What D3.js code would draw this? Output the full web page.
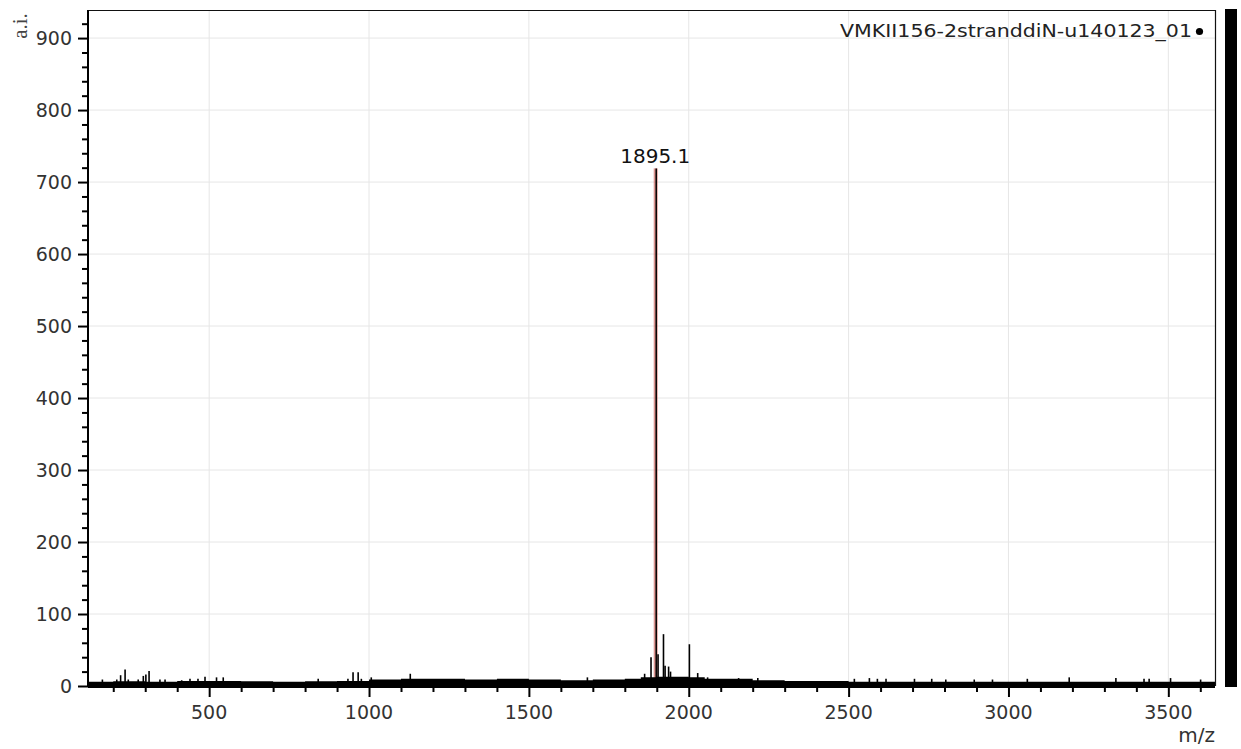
<!DOCTYPE html>
<html lang="en">
<head>
<meta charset="UTF-8">
<title>Spectrum</title>
<script src="https://d3js.org/d3.v7.min.js"></script>
<style>
  body { margin: 0; background: #fff; }
  text { font-family: "DejaVu Sans", sans-serif; }
</style>
</head>
<body>
<svg width="1241" height="749"></svg>
<script>
// baseline noise level (band top) along m/z
var noiseMz  = [121, 200, 300, 400, 500, 600, 700, 800, 900, 1000, 1100, 1200, 1300, 1400, 1500, 1600, 1700, 1800, 1850, 1900, 1950, 2000, 2050, 2100, 2200, 2300, 2400, 2500, 2700, 3000, 3300, 3646];
var noiseInt = [6,   6.5, 6,   7,   7,   6.5, 6,   6.5, 7,   9,    10,   10,   9,    10,   9,    8,    9,    10,   12,   13,   13,   12,   10,   10,   8,    7,    7,    6,    6,    6,    6,    6];

// visible spikes above the band
var peakMz  = [166, 211, 223, 237, 247, 278, 294, 302, 312, 346, 362, 414, 440, 465, 487, 523, 544, 841, 934, 950, 966, 976, 1007, 1129, 1683, 1862, 1882, 1904, 1921, 1926, 1937, 1943, 2002, 2028, 2059, 2156, 2216, 2518, 2565, 2590, 2617, 2706, 2760, 2804, 2893, 2950, 3059, 3190, 3336, 3424, 3440, 3507, 3601];
var peakInt = [9,   9,   15,  23,  9,   9,   14,  16,  21,  9,   9,   8,   10,  10,  13,  12,  12,  10,  10,  19,  19,  10,  12,   17,   12,   17,   40,   44,   72,   28,   27,   20,   58,   18,   12,   11,   11,   10,   11,   10,   10,   10,   10,   9,    9,    9,    10,   12,   11,   10,   10,   11,   9];

// labelled main peak
var mainMz = 1895.1;
var mainInt = 719;
var mainLabel = "1895.1";

var xTicks = [500, 1000, 1500, 2000, 2500, 3000, 3500];
var yTicks = [0, 100, 200, 300, 400, 500, 600, 700, 800, 900];
var legendName = "VMKII156-2stranddiN-u140123_01";

var svg = d3.select('svg');
var pl = 88, pr = 1215, pt = 10, pb = 686;

var x = d3.scaleLinear().domain([121, 3646]).range([pl, pr]);
var y = d3.scaleLinear().domain([0, 939]).range([pb, pt]);

// grid
var grid = svg.append('g');
grid.selectAll('line.gx').data(xTicks).enter().append('line')
    .attr('x1', function (d) { return x(d); }).attr('x2', function (d) { return x(d); })
    .attr('y1', pt).attr('y2', pb)
    .attr('stroke', '#e6e6e6').attr('stroke-width', 1);
grid.selectAll('line.gy').data(yTicks.slice(1)).enter().append('line')
    .attr('x1', pl).attr('x2', pr)
    .attr('y1', function (d) { return y(d); }).attr('y2', function (d) { return y(d); })
    .attr('stroke', '#e6e6e6').attr('stroke-width', 1);

// frame top/right
svg.append('path')
    .attr('d', 'M' + pl + ',' + (pt + 0.5) + 'H' + (pr + 0.5) + 'V' + pb)
    .attr('fill', 'none').attr('stroke', '#111').attr('stroke-width', 1.2);

// main peak red marker
var xp = x(mainMz) + 1;
svg.append('rect')
    .attr('x', xp - 2.5).attr('y', y(mainInt)).attr('width', 4).attr('height', pb - y(mainInt))
    .attr('fill', '#c8504a').attr('opacity', 0.6);
svg.append('line')
    .attr('x1', xp - 6).attr('x2', xp + 6).attr('y1', pb - 1.5).attr('y2', pb - 1.5)
    .attr('stroke', '#d0453f').attr('stroke-width', 2);

// noise band
var area = d3.area()
    .x(function (d) { return x(d[0]); })
    .y0(pb + 2)
    .y1(function (d) { return y(d[1]); })
    .curve(d3.curveStepAfter);
svg.append('path')
    .datum(d3.zip(noiseMz, noiseInt))
    .attr('d', area)
    .attr('fill', '#000');

// spikes
svg.append('g').selectAll('line').data(d3.zip(peakMz, peakInt)).enter().append('line')
    .attr('x1', function (d) { return x(d[0]); }).attr('x2', function (d) { return x(d[0]); })
    .attr('y1', pb).attr('y2', function (d) { return y(d[1]); })
    .attr('stroke', '#000').attr('stroke-width', 1.6);

// main peak line
svg.append('line')
    .attr('x1', xp).attr('x2', xp).attr('y1', pb).attr('y2', y(mainInt))
    .attr('stroke', '#000').attr('stroke-width', 1.5);
svg.append('text')
    .attr('x', xp - 1).attr('y', 163)
    .attr('text-anchor', 'middle')
    .attr('font-size', 20).attr('fill', '#111')
    .text(mainLabel);

// axes
var xAxis = d3.axisBottom(x).tickValues(d3.range(200, 3647, 100)).tickSize(6).tickFormat('');
svg.append('g').attr('transform', 'translate(0,' + pb + ')').call(xAxis)
    .call(function (g) {
        g.select('.domain').attr('stroke', '#000').attr('stroke-width', 2).attr('d', 'M' + pl + ',0H' + pr);
        g.selectAll('.tick line').attr('stroke', '#000').attr('stroke-width', 2)
            .attr('y2', function (d) { return d % 500 === 0 ? 11 : 6; });
    });
svg.append('g').selectAll('text').data(xTicks).enter().append('text')
    .attr('x', function (d) { return x(d); }).attr('y', 719)
    .attr('text-anchor', 'middle').attr('font-size', 19).attr('fill', '#333')
    .text(function (d) { return d; });

var yAxis = d3.axisLeft(y).tickValues(d3.range(0, 939, 20)).tickSize(6).tickFormat('');
svg.append('g').attr('transform', 'translate(' + pl + ',0)').call(yAxis)
    .call(function (g) {
        g.select('.domain').attr('stroke', '#000').attr('stroke-width', 2).attr('d', 'M0,' + pt + 'V' + (pb + 1));
        g.selectAll('.tick line').attr('stroke', '#000').attr('stroke-width', 2)
            .attr('x2', function (d) { return d % 100 === 0 ? -10 : -6; });
    });
svg.append('g').selectAll('text').data(yTicks).enter().append('text')
    .attr('x', 72).attr('y', function (d) { return y(d) + 7; })
    .attr('text-anchor', 'end').attr('font-size', 19).attr('fill', '#333')
    .text(function (d) { return d; });

// axis titles
svg.append('text')
    .attr('transform', 'translate(27,26) rotate(-90)')
    .attr('text-anchor', 'middle')
    .style('font-family', '"Liberation Serif", serif')
    .attr('font-size', 21).attr('fill', '#444')
    .text('a.i.');
svg.append('text')
    .attr('x', 1215).attr('y', 742)
    .attr('text-anchor', 'end').attr('font-size', 20).attr('fill', '#333')
    .text('m/z');

// legend
svg.append('text')
    .attr('x', 1192).attr('y', 37)
    .attr('text-anchor', 'end').attr('font-size', 18).attr('fill', '#222')
    .attr('textLength', 352).attr('lengthAdjust', 'spacingAndGlyphs')
    .text(legendName);
svg.append('circle').attr('cx', 1199.5).attr('cy', 31.5).attr('r', 3.6).attr('fill', '#000');

// right bar
svg.append('rect').attr('x', 1225).attr('y', 9).attr('width', 12).attr('height', 678).attr('fill', '#000');
</script>
</body>
</html>
